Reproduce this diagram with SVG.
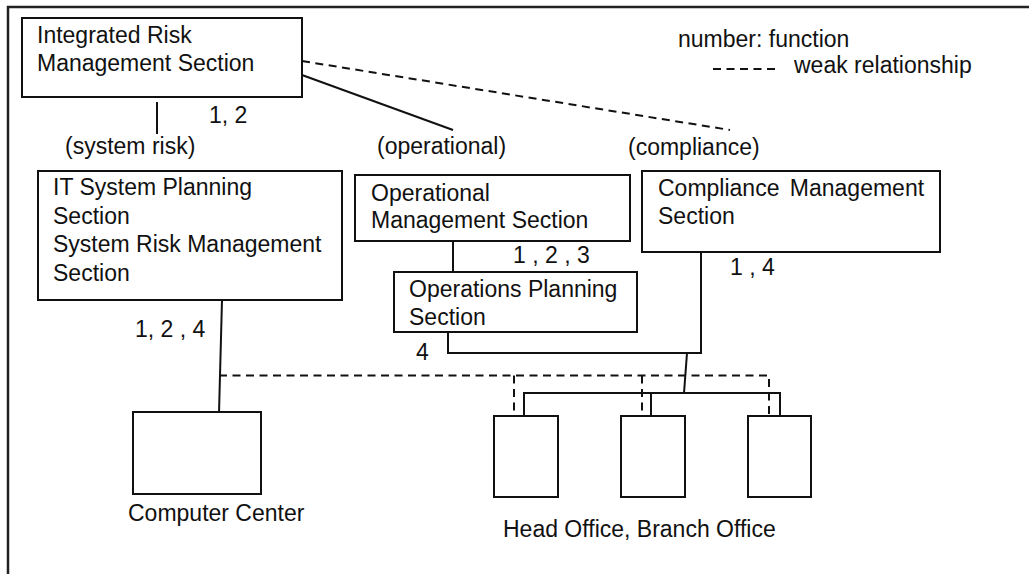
<svg xmlns="http://www.w3.org/2000/svg" width="1029" height="574" viewBox="0 0 1029 574">
  <style>
    text { font-family: "Liberation Sans", Arial, sans-serif; font-size: 23px; fill: #111; }
    .box { fill: #fff; stroke: #111; stroke-width: 2; }
    .ln { fill: none; stroke: #111; stroke-width: 2; }
    .weak { fill: none; stroke: #111; stroke-width: 2; stroke-dasharray: 8 5.5; }
    .frame { fill: none; stroke: #222; stroke-width: 2.5; }
  </style>
  <rect width="1029" height="574" fill="#fff"/>
  <!-- outer frame, open to the right and bottom -->
  <rect class="frame" x="8" y="7" width="1060" height="620"/>

  <!-- legend -->
  <g id="legend">
    <text x="678" y="47">number: function</text>
    <line class="weak" x1="713" y1="69" x2="778" y2="69" stroke-dasharray="6.5 5"/>
    <text x="794" y="73">weak relationship</text>
  </g>

  <!-- connectors -->
  <g id="connectors">
    <line class="ln" x1="157" y1="102" x2="157" y2="134"/>
    <line class="ln" x1="302" y1="75" x2="453" y2="130"/>
    <line class="weak" x1="302" y1="61" x2="730" y2="130"/>
    <line class="ln" x1="453" y1="241" x2="453" y2="272"/>
    <polyline class="ln" points="448,332 448,353 701,353 701,252"/>
    <line class="ln" x1="687" y1="353" x2="684" y2="393"/>
    <line class="ln" x1="222" y1="300" x2="219" y2="413"/>
    <polyline class="ln" points="524,416 524,393 780,393 780,416"/>
    <line class="ln" x1="651" y1="393" x2="651" y2="416"/>
    <polyline class="weak" points="219,375.5 769,375.5 769,416"/>
    <line class="weak" x1="514" y1="375.5" x2="514" y2="416"/>
    <line class="weak" x1="642" y1="375.5" x2="642" y2="416"/>
  </g>

  <!-- connector labels -->
  <g id="labels">
    <text x="209" y="123">1, 2</text>
    <text x="65" y="154">(system risk)</text>
    <text x="377" y="154">(operational)</text>
    <text x="628" y="155">(compliance)</text>
    <text x="513" y="263">1 , 2 , 3</text>
    <text x="730" y="275">1 , 4</text>
    <text x="135" y="337">1, 2 , 4</text>
    <text x="416" y="360">4</text>
  </g>

  <g id="integrated-risk">
    <rect class="box" x="22" y="18" width="280" height="79"/>
    <text x="37" y="43">Integrated Risk</text>
    <text x="37" y="71">Management Section</text>
  </g>

  <g id="it-system">
    <rect class="box" x="38" y="171" width="304" height="129"/>
    <text x="53" y="195">IT System Planning</text>
    <text x="53" y="224">Section</text>
    <text x="53" y="252">System Risk Management</text>
    <text x="53" y="281">Section</text>
  </g>

  <g id="operational-management">
    <rect class="box" x="355" y="175" width="275" height="66"/>
    <text x="371" y="201">Operational</text>
    <text x="371" y="228">Management Section</text>
  </g>

  <g id="operations-planning">
    <rect class="box" x="394" y="272" width="243" height="60"/>
    <text x="409" y="297">Operations Planning</text>
    <text x="409" y="325">Section</text>
  </g>

  <g id="compliance">
    <rect class="box" x="642" y="171" width="298" height="81"/>
    <text x="658" y="196" word-spacing="4">Compliance Management</text>
    <text x="658" y="224">Section</text>
  </g>

  <g id="computer-center">
    <rect class="box" x="133" y="412" width="128" height="82"/>
    <text x="128" y="521">Computer Center</text>
  </g>

  <g id="offices">
    <rect class="box" x="494" y="416" width="64" height="81"/>
    <rect class="box" x="621" y="416" width="64" height="81"/>
    <rect class="box" x="748" y="416" width="63" height="81"/>
    <text x="503" y="537">Head Office, Branch Office</text>
  </g>
</svg>
